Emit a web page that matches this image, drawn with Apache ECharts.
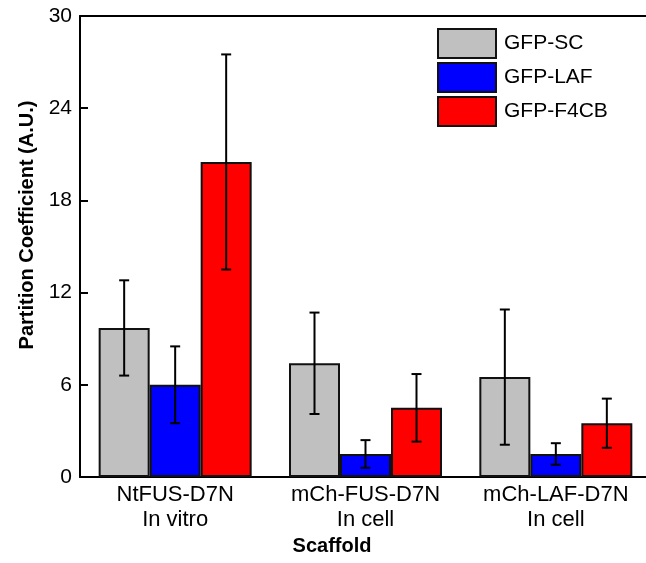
<!DOCTYPE html>
<html>
<head>
<meta charset="utf-8">
<script src="https://cdn.jsdelivr.net/npm/echarts@6/dist/echarts.min.js"></script>
<style>
  html, body { margin: 0; padding: 0; background: #fff; overflow: hidden; }
  /* the plot frame runs slightly past the right edge of the view */
  #chart { width: 654px; height: 563px; }
</style>
</head>
<body>
<div id="chart"></div>
<script>
// Scaffold conditions (x categories)
const scaffolds = ['NtFUS-D7N\nIn vitro', 'mCh-FUS-D7N\nIn cell', 'mCh-LAF-D7N\nIn cell'];
// Client proteins (series)
const clientNames = ['GFP-SC', 'GFP-LAF', 'GFP-F4CB'];
// Mean partition coefficients
const gfpSC   = [9.7, 7.4, 6.5];
const gfpLAF  = [6.0, 1.5, 1.5];
const gfpF4CB = [20.5, 4.5, 3.5];
// Error bar half-lengths
const errSC   = [3.1, 3.3, 4.4];
const errLAF  = [2.5, 0.9, 0.7];
const errF4CB = [7.0, 2.2, 1.6];
// Y axis range
const yMin = 0, yMax = 30, yStep = 6;

const FONT = 'Arial, "Liberation Sans", sans-serif';
const COLORS = ['#c0c0c0', '#0000ff', '#ff0000'];
const BAR_W = 51;

const means = [gfpSC, gfpLAF, gfpF4CB];
const errs = [errSC, errLAF, errF4CB];

const barSeries = clientNames.map((name, k) => ({
  name: name,
  type: 'bar',
  data: means[k],
  barWidth: BAR_W,
  barGap: '0%',
  itemStyle: { color: COLORS[k], borderColor: '#111', borderWidth: 2 },
  z: 2
}));

const errorSeries = clientNames.map((name, k) => ({
  type: 'custom',
  name: name + ' error',
  data: means[k].map((m, i) => [i, m, errs[k][i]]),
  z: 5,
  silent: true,
  renderItem: function (params, api) {
    const i = api.value(0), m = api.value(1), e = api.value(2);
    const top = api.coord([i, m + e]);
    const bot = api.coord([i, m - e]);
    const x = top[0] + (k - 1) * BAR_W;
    const cap = 5;
    const style = { stroke: '#000', lineWidth: 2, fill: null };
    return {
      type: 'group',
      children: [
        { type: 'line', shape: { x1: x, y1: top[1], x2: x, y2: bot[1] }, style: style },
        { type: 'line', shape: { x1: x - cap, y1: top[1], x2: x + cap, y2: top[1] }, style: style },
        { type: 'line', shape: { x1: x - cap, y1: bot[1], x2: x + cap, y2: bot[1] }, style: style }
      ]
    };
  }
}));

const chart = echarts.init(document.getElementById('chart'), null, { renderer: 'canvas' });
chart.setOption({
  animation: false,
  backgroundColor: '#fff',
  textStyle: { fontFamily: FONT },
  grid: {
    left: 80, top: 16, width: 571, height: 461,
    containLabel: false
  },
  legend: {
    data: clientNames,
    orient: 'vertical',
    left: 437, top: 28,
    padding: 0,
    itemWidth: 58, itemHeight: 29, itemGap: 3,
    icon: 'rect',
    itemStyle: { borderColor: '#111', borderWidth: 2 },
    textStyle: { fontFamily: FONT, fontSize: 21, color: '#000', padding: [0, 0, 0, 3] }
  },
  xAxis: [
    {
      type: 'category',
      data: scaffolds,
      axisLine: { lineStyle: { color: '#000', width: 2 } },
      axisTick: { show: false },
      axisLabel: {
        interval: 0, hideOverlap: false,
        color: '#000', fontSize: 22, lineHeight: 25, margin: 5, fontFamily: FONT
      }
    },
    {
      // top frame line
      type: 'category',
      data: scaffolds,
      position: 'top',
      axisLine: { show: true, lineStyle: { color: '#000', width: 2 } },
      axisTick: { show: false },
      axisLabel: { show: false }
    }
  ],
  yAxis: {
    type: 'value',
    min: yMin, max: yMax, interval: yStep,
    splitLine: { show: false },
    axisLine: { show: true, lineStyle: { color: '#000', width: 2 } },
    axisTick: { show: true, inside: true, length: 8, lineStyle: { color: '#000', width: 2 } },
    axisLabel: { color: '#000', fontSize: 21, margin: 8, fontFamily: FONT }
  },
  graphic: [
    {
      type: 'text', x: 27, y: 225, rotation: Math.PI / 2,
      style: {
        text: 'Partition Coefficient (A.U.)', fill: '#000',
        font: 'bold 20px ' + FONT, align: 'center', verticalAlign: 'middle'
      }
    },
    {
      type: 'text', x: 332, y: 546,
      style: {
        text: 'Scaffold', fill: '#000',
        font: 'bold 20px ' + FONT, align: 'center', verticalAlign: 'middle'
      }
    }
  ],
  series: barSeries.concat(errorSeries)
});
</script>
</body>
</html>
